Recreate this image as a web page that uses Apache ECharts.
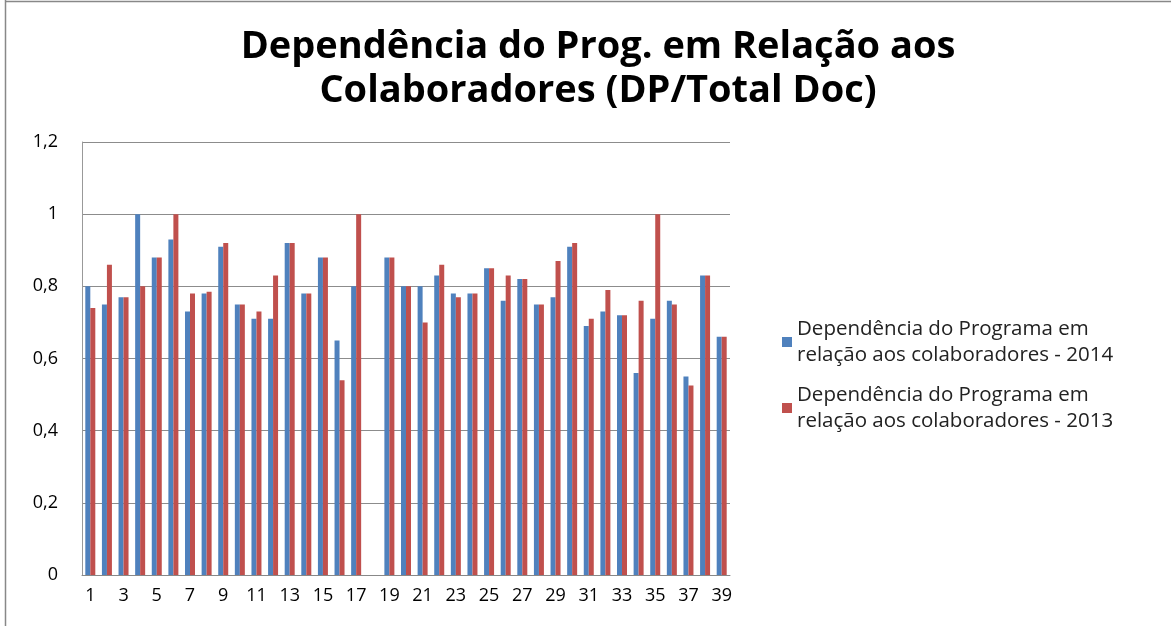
<!DOCTYPE html>
<html><head><meta charset="utf-8">
<script src="https://cdn.jsdelivr.net/npm/echarts@6/dist/echarts.min.js"></script>
<style>html,body{margin:0;padding:0;background:#fff}#c{width:1171px;height:626px}</style>
</head><body><div id="c"></div>
<script>
const categories = Array.from({length:39},(_,i)=>String(i+1));
const series2014 = [0.80,0.75,0.77,1.00,0.88,0.93,0.73,0.78,0.91,0.75,0.71,0.71,0.92,0.78,0.88,0.65,0.80,null,0.88,0.80,0.80,0.83,0.78,0.78,0.85,0.76,0.82,0.75,0.77,0.91,0.69,0.73,0.72,0.56,0.71,0.76,0.55,0.83,0.66];
const series2013 = [0.74,0.86,0.77,0.80,0.88,1.00,0.78,0.785,0.92,0.75,0.73,0.83,0.92,0.78,0.88,0.54,1.00,null,0.88,0.80,0.70,0.86,0.77,0.78,0.85,0.83,0.82,0.75,0.87,0.92,0.71,0.79,0.72,0.76,1.00,0.75,0.525,0.83,0.66];
const legendNames = ['Dependência do Programa em\nrelação aos colaboradores - 2014','Dependência do Programa em\nrelação aos colaboradores - 2013'];
const chart = echarts.init(document.getElementById('c'));
const font = '"Open Sans", sans-serif';
chart.setOption({
  animation:false,
  backgroundColor:'#fff',
  title:{text:'Dependência do Prog. em Relação aos\nColaboradores (DP/Total Doc)',left:593,top:20,textAlign:'center',
    textStyle:{fontFamily:font,fontWeight:'bold',fontSize:38,lineHeight:44,color:'#000'}},
  legend:{orient:'vertical',left:777,top:311,itemWidth:10,itemHeight:10,itemGap:14,icon:'rect',
    textStyle:{fontFamily:font,fontSize:20.5,lineHeight:26,color:'#222'},data:legendNames},
  grid:{left:82,right:441,top:142,bottom:51},
  xAxis:{type:'category',data:categories,
    axisLine:{lineStyle:{color:'#888',width:1}},axisTick:{show:false},
    axisLabel:{interval:1,fontFamily:font,fontSize:18,color:'#000',margin:12}},
  yAxis:{type:'value',min:0,max:1.2,interval:0.2,
    axisLine:{show:true,lineStyle:{color:'#999',width:1}},axisTick:{show:false},
    splitLine:{lineStyle:{color:'#8c8c8c',width:1}},
    axisLabel:{fontFamily:font,fontSize:18,color:'#000',margin:24,
      formatter:v=>String(Math.round(v*10)/10).replace('.',',')}},
  series:[
    {name:legendNames[0],type:'bar',data:series2014,barWidth:5,barGap:'0%',
      itemStyle:{color:'#4F81BD'}},
    {name:legendNames[1],type:'bar',data:series2013,barWidth:5,barGap:'0%',
      itemStyle:{color:'#C0504D'}}
  ],
  graphic:[
    {type:'line',shape:{x1:5.5,y1:0,x2:5.5,y2:626},style:{stroke:'#888',lineWidth:1.5},silent:true},
    {type:'line',shape:{x1:5,y1:1.5,x2:1171,y2:1.5},style:{stroke:'#888',lineWidth:1.5},silent:true}
  ]
});
</script></body></html>
